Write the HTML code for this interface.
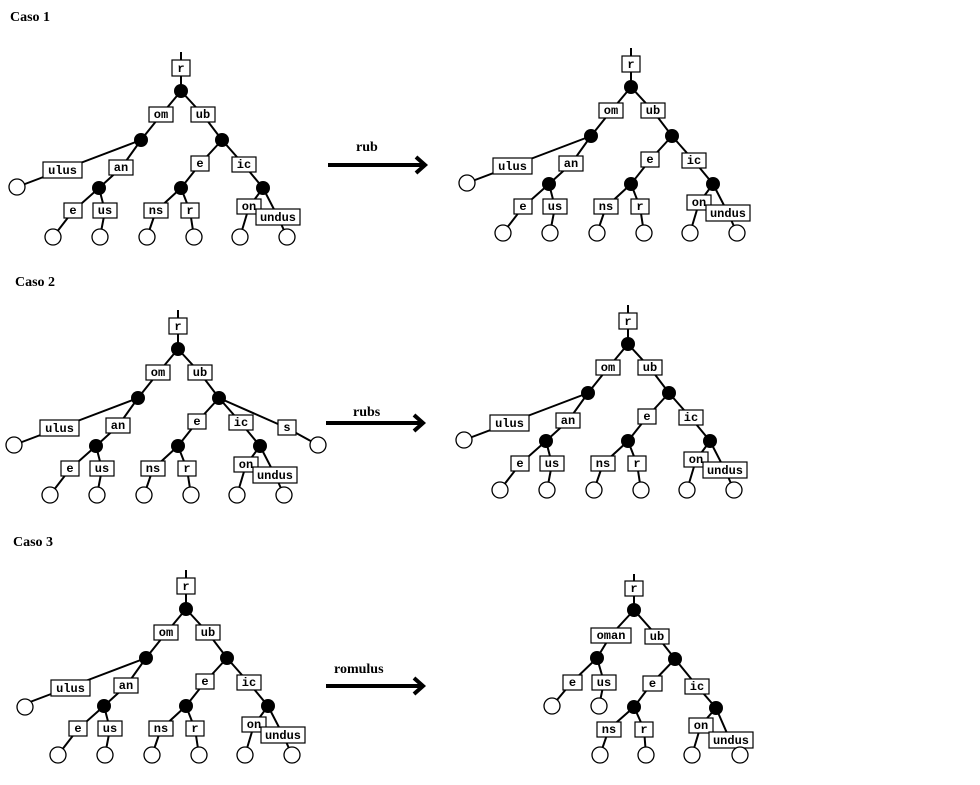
<!DOCTYPE html>
<html><head><meta charset="utf-8"><style>
html,body{margin:0;padding:0;background:#fff;}
svg{display:block;}
.l{stroke:#000;stroke-width:2;fill:none;}
.b{fill:#fff;stroke:#000;stroke-width:1.2;}
.t{font-family:"Liberation Mono",monospace;font-weight:bold;font-size:12px;text-anchor:middle;}
.n{fill:#000;}
.lf{fill:#fff;stroke:#000;stroke-width:1.3;}
.h{font-family:"Liberation Serif",serif;font-weight:bold;font-size:14px;}
</style></head><body>
<svg width="980" height="785" viewBox="0 0 980 785" xmlns="http://www.w3.org/2000/svg">
<text class="h" x="10" y="21">Caso 1</text>
<text class="h" x="15" y="286">Caso 2</text>
<text class="h" x="13" y="546">Caso 3</text>

<g class="h"><text x="356" y="151">rub</text><text x="353" y="416">rubs</text><text x="334" y="673">romulus</text></g>
<path class="l" d="M328,165 H422" style="stroke-width:4"/><path d="M416,157 L425,165 L416,173" class="l" style="stroke-width:4"/>
<path class="l" d="M326,423 H420" style="stroke-width:4"/><path d="M414,415 L423,423 L414,431" class="l" style="stroke-width:4"/>
<path class="l" d="M326,686 H420" style="stroke-width:4"/><path d="M414,678 L423,686 L414,694" class="l" style="stroke-width:4"/>

<!-- Tree 1 left -->
<g transform="translate(0,0)">
<path class="l" d="M181,52 V91 M181,91 L161,115 L141,140 M181,91 L203,115 L222,140 M141,140 L62,170 L17,187 M141,140 L121,168 L99,188 M222,140 L200,164 L181,188 M222,140 L244,165 L263,188 M99,188 L73,211 L53,237 M99,188 L105,211 L100,237 M181,188 L156,211 L147,237 M181,188 L190,211 L194,237 M263,188 L249,207 L240,237 M263,188 L278,217 L287,237"/>
<rect class="b" x="172" y="60" width="18" height="16"/><text class="t" x="181" y="72">r</text>
<rect class="b" x="149" y="107" width="24" height="15"/><text class="t" x="161" y="118">om</text>
<rect class="b" x="191" y="107" width="24" height="15"/><text class="t" x="203" y="118">ub</text>
<rect class="b" x="43" y="162" width="39" height="16"/><text class="t" x="62.5" y="174">ulus</text>
<rect class="b" x="109" y="160" width="24" height="15"/><text class="t" x="121" y="171">an</text>
<rect class="b" x="191" y="156" width="18" height="15"/><text class="t" x="200" y="167">e</text>
<rect class="b" x="232" y="157" width="24" height="15"/><text class="t" x="244" y="168">ic</text>
<rect class="b" x="64" y="203" width="18" height="15"/><text class="t" x="73" y="214">e</text>
<rect class="b" x="93" y="203" width="24" height="15"/><text class="t" x="105" y="214">us</text>
<rect class="b" x="144" y="203" width="24" height="15"/><text class="t" x="156" y="214">ns</text>
<rect class="b" x="181" y="203" width="18" height="15"/><text class="t" x="190" y="214">r</text>
<rect class="b" x="237" y="199" width="24" height="15"/><text class="t" x="249" y="210">on</text>
<rect class="b" x="256" y="209" width="44" height="16"/><text class="t" x="278" y="221">undus</text>
<circle class="n" cx="181" cy="91" r="7"/><circle class="n" cx="141" cy="140" r="7"/><circle class="n" cx="222" cy="140" r="7"/><circle class="n" cx="99" cy="188" r="7"/><circle class="n" cx="181" cy="188" r="7"/><circle class="n" cx="263" cy="188" r="7"/>
<circle class="lf" cx="17" cy="187" r="8"/><circle class="lf" cx="53" cy="237" r="8"/><circle class="lf" cx="100" cy="237" r="8"/><circle class="lf" cx="147" cy="237" r="8"/><circle class="lf" cx="194" cy="237" r="8"/><circle class="lf" cx="240" cy="237" r="8"/><circle class="lf" cx="287" cy="237" r="8"/>
</g>

<!-- Tree 1 right -->
<g transform="translate(450,-4)">
<path class="l" d="M181,52 V91 M181,91 L161,115 L141,140 M181,91 L203,115 L222,140 M141,140 L62,170 L17,187 M141,140 L121,168 L99,188 M222,140 L200,164 L181,188 M222,140 L244,165 L263,188 M99,188 L73,211 L53,237 M99,188 L105,211 L100,237 M181,188 L156,211 L147,237 M181,188 L190,211 L194,237 M263,188 L249,207 L240,237 M263,188 L278,217 L287,237"/>
<rect class="b" x="172" y="60" width="18" height="16"/><text class="t" x="181" y="72">r</text>
<rect class="b" x="149" y="107" width="24" height="15"/><text class="t" x="161" y="118">om</text>
<rect class="b" x="191" y="107" width="24" height="15"/><text class="t" x="203" y="118">ub</text>
<rect class="b" x="43" y="162" width="39" height="16"/><text class="t" x="62.5" y="174">ulus</text>
<rect class="b" x="109" y="160" width="24" height="15"/><text class="t" x="121" y="171">an</text>
<rect class="b" x="191" y="156" width="18" height="15"/><text class="t" x="200" y="167">e</text>
<rect class="b" x="232" y="157" width="24" height="15"/><text class="t" x="244" y="168">ic</text>
<rect class="b" x="64" y="203" width="18" height="15"/><text class="t" x="73" y="214">e</text>
<rect class="b" x="93" y="203" width="24" height="15"/><text class="t" x="105" y="214">us</text>
<rect class="b" x="144" y="203" width="24" height="15"/><text class="t" x="156" y="214">ns</text>
<rect class="b" x="181" y="203" width="18" height="15"/><text class="t" x="190" y="214">r</text>
<rect class="b" x="237" y="199" width="24" height="15"/><text class="t" x="249" y="210">on</text>
<rect class="b" x="256" y="209" width="44" height="16"/><text class="t" x="278" y="221">undus</text>
<circle class="n" cx="181" cy="91" r="7"/><circle class="n" cx="141" cy="140" r="7"/><circle class="n" cx="222" cy="140" r="7"/><circle class="n" cx="99" cy="188" r="7"/><circle class="n" cx="181" cy="188" r="7"/><circle class="n" cx="263" cy="188" r="7"/>
<circle class="lf" cx="17" cy="187" r="8"/><circle class="lf" cx="53" cy="237" r="8"/><circle class="lf" cx="100" cy="237" r="8"/><circle class="lf" cx="147" cy="237" r="8"/><circle class="lf" cx="194" cy="237" r="8"/><circle class="lf" cx="240" cy="237" r="8"/><circle class="lf" cx="287" cy="237" r="8"/>
</g>

<!-- Tree 2 left -->
<g transform="translate(-3,258)">
<path class="l" d="M181,52 V91 M181,91 L161,115 L141,140 M181,91 L203,115 L222,140 M141,140 L62,170 L17,187 M141,140 L121,168 L99,188 M222,140 L200,164 L181,188 M222,140 L244,165 L263,188 M99,188 L73,211 L53,237 M99,188 L105,211 L100,237 M181,188 L156,211 L147,237 M181,188 L190,211 L194,237 M263,188 L249,207 L240,237 M263,188 L278,217 L287,237 M222,140 L290,170 L321,187"/>
<rect class="b" x="172" y="60" width="18" height="16"/><text class="t" x="181" y="72">r</text>
<rect class="b" x="149" y="107" width="24" height="15"/><text class="t" x="161" y="118">om</text>
<rect class="b" x="191" y="107" width="24" height="15"/><text class="t" x="203" y="118">ub</text>
<rect class="b" x="43" y="162" width="39" height="16"/><text class="t" x="62.5" y="174">ulus</text>
<rect class="b" x="109" y="160" width="24" height="15"/><text class="t" x="121" y="171">an</text>
<rect class="b" x="191" y="156" width="18" height="15"/><text class="t" x="200" y="167">e</text>
<rect class="b" x="232" y="157" width="24" height="15"/><text class="t" x="244" y="168">ic</text>
<rect class="b" x="281" y="162" width="18" height="15"/><text class="t" x="290" y="173">s</text>
<rect class="b" x="64" y="203" width="18" height="15"/><text class="t" x="73" y="214">e</text>
<rect class="b" x="93" y="203" width="24" height="15"/><text class="t" x="105" y="214">us</text>
<rect class="b" x="144" y="203" width="24" height="15"/><text class="t" x="156" y="214">ns</text>
<rect class="b" x="181" y="203" width="18" height="15"/><text class="t" x="190" y="214">r</text>
<rect class="b" x="237" y="199" width="24" height="15"/><text class="t" x="249" y="210">on</text>
<rect class="b" x="256" y="209" width="44" height="16"/><text class="t" x="278" y="221">undus</text>
<circle class="n" cx="181" cy="91" r="7"/><circle class="n" cx="141" cy="140" r="7"/><circle class="n" cx="222" cy="140" r="7"/><circle class="n" cx="99" cy="188" r="7"/><circle class="n" cx="181" cy="188" r="7"/><circle class="n" cx="263" cy="188" r="7"/>
<circle class="lf" cx="17" cy="187" r="8"/><circle class="lf" cx="53" cy="237" r="8"/><circle class="lf" cx="100" cy="237" r="8"/><circle class="lf" cx="147" cy="237" r="8"/><circle class="lf" cx="194" cy="237" r="8"/><circle class="lf" cx="240" cy="237" r="8"/><circle class="lf" cx="287" cy="237" r="8"/><circle class="lf" cx="321" cy="187" r="8"/>
</g>

<!-- Tree 2 right -->
<g transform="translate(447,253)">
<path class="l" d="M181,52 V91 M181,91 L161,115 L141,140 M181,91 L203,115 L222,140 M141,140 L62,170 L17,187 M141,140 L121,168 L99,188 M222,140 L200,164 L181,188 M222,140 L244,165 L263,188 M99,188 L73,211 L53,237 M99,188 L105,211 L100,237 M181,188 L156,211 L147,237 M181,188 L190,211 L194,237 M263,188 L249,207 L240,237 M263,188 L278,217 L287,237"/>
<rect class="b" x="172" y="60" width="18" height="16"/><text class="t" x="181" y="72">r</text>
<rect class="b" x="149" y="107" width="24" height="15"/><text class="t" x="161" y="118">om</text>
<rect class="b" x="191" y="107" width="24" height="15"/><text class="t" x="203" y="118">ub</text>
<rect class="b" x="43" y="162" width="39" height="16"/><text class="t" x="62.5" y="174">ulus</text>
<rect class="b" x="109" y="160" width="24" height="15"/><text class="t" x="121" y="171">an</text>
<rect class="b" x="191" y="156" width="18" height="15"/><text class="t" x="200" y="167">e</text>
<rect class="b" x="232" y="157" width="24" height="15"/><text class="t" x="244" y="168">ic</text>
<rect class="b" x="64" y="203" width="18" height="15"/><text class="t" x="73" y="214">e</text>
<rect class="b" x="93" y="203" width="24" height="15"/><text class="t" x="105" y="214">us</text>
<rect class="b" x="144" y="203" width="24" height="15"/><text class="t" x="156" y="214">ns</text>
<rect class="b" x="181" y="203" width="18" height="15"/><text class="t" x="190" y="214">r</text>
<rect class="b" x="237" y="199" width="24" height="15"/><text class="t" x="249" y="210">on</text>
<rect class="b" x="256" y="209" width="44" height="16"/><text class="t" x="278" y="221">undus</text>
<circle class="n" cx="181" cy="91" r="7"/><circle class="n" cx="141" cy="140" r="7"/><circle class="n" cx="222" cy="140" r="7"/><circle class="n" cx="99" cy="188" r="7"/><circle class="n" cx="181" cy="188" r="7"/><circle class="n" cx="263" cy="188" r="7"/>
<circle class="lf" cx="17" cy="187" r="8"/><circle class="lf" cx="53" cy="237" r="8"/><circle class="lf" cx="100" cy="237" r="8"/><circle class="lf" cx="147" cy="237" r="8"/><circle class="lf" cx="194" cy="237" r="8"/><circle class="lf" cx="240" cy="237" r="8"/><circle class="lf" cx="287" cy="237" r="8"/>
</g>

<!-- Tree 3 left -->
<g transform="translate(5,518)">
<path class="l" d="M181,52 V91 M181,91 L161,115 L141,140 M181,91 L203,115 L222,140 M141,140 L62,170 L17,187 M141,140 L121,168 L99,188 M222,140 L200,164 L181,188 M222,140 L244,165 L263,188 M99,188 L73,211 L53,237 M99,188 L105,211 L100,237 M181,188 L156,211 L147,237 M181,188 L190,211 L194,237 M263,188 L249,207 L240,237 M263,188 L278,217 L287,237"/>
<rect class="b" x="172" y="60" width="18" height="16"/><text class="t" x="181" y="72">r</text>
<rect class="b" x="149" y="107" width="24" height="15"/><text class="t" x="161" y="118">om</text>
<rect class="b" x="191" y="107" width="24" height="15"/><text class="t" x="203" y="118">ub</text>
<rect class="b" x="46" y="162" width="39" height="16"/><text class="t" x="65.5" y="174">ulus</text>
<rect class="b" x="109" y="160" width="24" height="15"/><text class="t" x="121" y="171">an</text>
<rect class="b" x="191" y="156" width="18" height="15"/><text class="t" x="200" y="167">e</text>
<rect class="b" x="232" y="157" width="24" height="15"/><text class="t" x="244" y="168">ic</text>
<rect class="b" x="64" y="203" width="18" height="15"/><text class="t" x="73" y="214">e</text>
<rect class="b" x="93" y="203" width="24" height="15"/><text class="t" x="105" y="214">us</text>
<rect class="b" x="144" y="203" width="24" height="15"/><text class="t" x="156" y="214">ns</text>
<rect class="b" x="181" y="203" width="18" height="15"/><text class="t" x="190" y="214">r</text>
<rect class="b" x="237" y="199" width="24" height="15"/><text class="t" x="249" y="210">on</text>
<rect class="b" x="256" y="209" width="44" height="16"/><text class="t" x="278" y="221">undus</text>
<circle class="n" cx="181" cy="91" r="7"/><circle class="n" cx="141" cy="140" r="7"/><circle class="n" cx="222" cy="140" r="7"/><circle class="n" cx="99" cy="188" r="7"/><circle class="n" cx="181" cy="188" r="7"/><circle class="n" cx="263" cy="188" r="7"/>
<circle class="lf" cx="20" cy="189" r="8"/><circle class="lf" cx="53" cy="237" r="8"/><circle class="lf" cx="100" cy="237" r="8"/><circle class="lf" cx="147" cy="237" r="8"/><circle class="lf" cx="194" cy="237" r="8"/><circle class="lf" cx="240" cy="237" r="8"/><circle class="lf" cx="287" cy="237" r="8"/>
</g>

<!-- Tree 3 right -->
<g>
<path class="l" d="M634,574 V610 M634,610 L611,635 L597,658 M634,610 L657,636 L675,659 M597,658 L572,682 L552,706 M597,658 L604,682 L599,706 M675,659 L652,683 L634,707 M675,659 L697,686 L716,708 M634,707 L609,729 L600,755 M634,707 L644,729 L646,755 M716,708 L701,725 L692,755 M716,708 L730,740 L740,755"/>
<rect class="b" x="625" y="581" width="18" height="15"/><text class="t" x="634" y="592">r</text>
<rect class="b" x="591" y="628" width="40" height="15"/><text class="t" x="611" y="639">oman</text>
<rect class="b" x="645" y="629" width="24" height="15"/><text class="t" x="657" y="640">ub</text>
<rect class="b" x="563" y="675" width="19" height="15"/><text class="t" x="572.5" y="686">e</text>
<rect class="b" x="592" y="675" width="24" height="15"/><text class="t" x="604" y="686">us</text>
<rect class="b" x="643" y="676" width="19" height="15"/><text class="t" x="652.5" y="687">e</text>
<rect class="b" x="685" y="679" width="24" height="15"/><text class="t" x="697" y="690">ic</text>
<rect class="b" x="597" y="722" width="24" height="15"/><text class="t" x="609" y="733">ns</text>
<rect class="b" x="635" y="722" width="18" height="15"/><text class="t" x="644" y="733">r</text>
<rect class="b" x="689" y="718" width="24" height="15"/><text class="t" x="701" y="729">on</text>
<rect class="b" x="709" y="732" width="44" height="16"/><text class="t" x="731" y="744">undus</text>
<circle class="n" cx="634" cy="610" r="7"/><circle class="n" cx="597" cy="658" r="7"/><circle class="n" cx="675" cy="659" r="7"/><circle class="n" cx="634" cy="707" r="7"/><circle class="n" cx="716" cy="708" r="7"/>
<circle class="lf" cx="552" cy="706" r="8"/><circle class="lf" cx="599" cy="706" r="8"/><circle class="lf" cx="600" cy="755" r="8"/><circle class="lf" cx="646" cy="755" r="8"/><circle class="lf" cx="692" cy="755" r="8"/><circle class="lf" cx="740" cy="755" r="8"/>
</g>
</svg>
</body></html>
